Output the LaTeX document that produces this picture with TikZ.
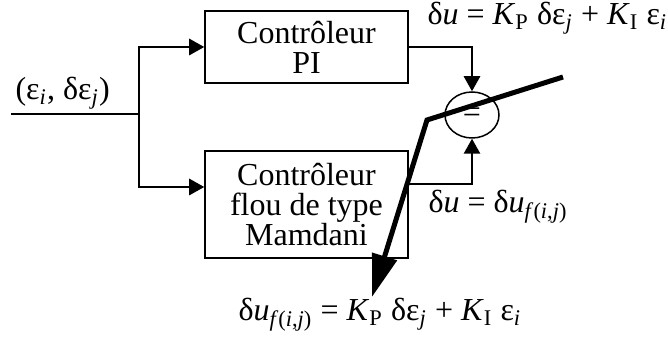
\documentclass[tikz,border=0pt]{standalone}
\usepackage{fontspec}
\setmainfont{Liberation Serif}
\usetikzlibrary{shapes.geometric,arrows.meta}

\begin{document}
\begin{tikzpicture}[x=0.4pt,y=-0.4pt,
    every node/.style={font=\fontsize{12.8}{12}\selectfont}]

    % Styles
    \tikzstyle{ctrl_box} = [draw=black, line width=0.8pt, minimum width=81pt,
        align=center, inner sep=2pt]
    \tikzstyle{sum_node} = [ellipse, draw=black, line width=0.6pt,
        minimum width=21.6pt, minimum height=18.4pt, inner sep=0pt]
    \tikzstyle{flow} = [line width=0.8pt, -{Triangle[length=6pt,width=6.5pt]}]
    \tikzstyle{big_arrow} = [line width=2pt, line join=miter,
        -{Triangle[length=17pt,width=10pt]}]

    \useasboundingbox (0,0) rectangle (668,345);

    % Controllers
    \node[ctrl_box, minimum height=28.8pt] (pi) at (306.5,47)
        {Contrôleur\\ PI};
    \node[ctrl_box, minimum height=42.8pt] (mam) at (306.5,204.5)
        {Contrôleur\\ flou de type\\ Mamdani};

    % Comparison
    \node[sum_node] (sum) at (472,115) {=};

    % Input and split
    \coordinate (in) at (11,114);
    \coordinate (split) at (139,114);
    \draw[line width=0.8pt] (in) -- (split);
    \draw[flow] (split) |- (pi.west);
    \draw[flow] (split) |- ([yshift=7pt]mam.west);

    % Outputs to comparison
    \draw[flow] (pi.east) -| (sum.north);
    \draw[flow] ([yshift=8pt]mam.east) -| (sum.south);

    % Thick arrow
    \coordinate (from) at (563,77);
    \coordinate (bend) at (427,120);
    \coordinate (to) at (372,297);
    \draw[big_arrow] (from) -- (bend) -- (to);

    % Labels
    \node[anchor=base west, inner sep=0pt] (inlab) at (15,100)
        {(ε\textsubscript{\textit{i}}, δε\textsubscript{\textit{j}})};
    \node[anchor=base west, inner sep=0pt] (pilab) at (427,25)
        {δ\textit{u} = \textit{K}\textsubscript{P} δε\textsubscript{\textit{j}} + \textit{K}\textsubscript{I} ε\textsubscript{\textit{i}}};
    \node[anchor=base west, inner sep=0pt] (mamlab) at (428,213)
        {δ\textit{u} = δ\textit{u}\textsubscript{\textit{f}(\textit{i},\textit{j})}};
    \node[anchor=base west, inner sep=0pt] (reslab) at (238,321)
        {δ\textit{u}\textsubscript{\textit{f}(\textit{i},\textit{j})} = \textit{K}\textsubscript{P} δε\textsubscript{\textit{j}} + \textit{K}\textsubscript{I} ε\textsubscript{\textit{i}}};

\end{tikzpicture}
\end{document}
